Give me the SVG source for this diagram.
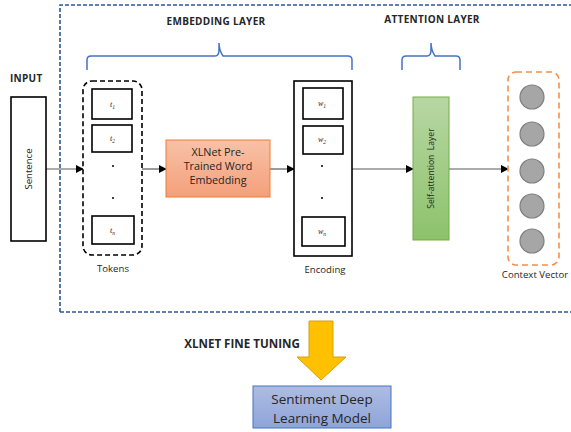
<svg xmlns="http://www.w3.org/2000/svg" width="571" height="432" viewBox="0 0 571 432">
  <style>
    text { font-family: "Open Sans", "Liberation Sans", sans-serif; fill: #262626; }
    .hdr { font-size: 10px; font-weight: bold; letter-spacing: 0.3px; }
    .lbl { font-size: 9.6px; }
    .sub { font-size: 8px; font-style: italic; font-family: "Liberation Serif", serif; }
    .box { fill: #ffffff; stroke: #000000; stroke-width: 1.6; }
    .brace { fill: none; stroke: #4472C4; stroke-width: 1.5; }
    .wire { stroke: #595959; stroke-width: 1.2; fill: none; marker-end: url(#arr); }
    .dot { fill: #000000; }
    .ball { fill: #A6A6A6; stroke: #7F7F7F; stroke-width: 1.2; }
  </style>
  <defs>
    <marker id="arr" viewBox="0 0 10 10" refX="9" refY="5" markerWidth="8" markerHeight="8" markerUnits="userSpaceOnUse" orient="auto">
      <path d="M0,0 L10,5 L0,10 z" fill="#000000"/>
    </marker>
    <linearGradient id="gOrange" x1="0" y1="0" x2="0" y2="1">
      <stop offset="0" stop-color="#F8C1A8"/>
      <stop offset="1" stop-color="#F4A07A"/>
    </linearGradient>
    <linearGradient id="gGreen" x1="0" y1="0" x2="0" y2="1">
      <stop offset="0" stop-color="#B7D7A3"/>
      <stop offset="1" stop-color="#8DC26B"/>
    </linearGradient>
    <linearGradient id="gBlue" x1="0" y1="0" x2="0" y2="1">
      <stop offset="0" stop-color="#AEBCE2"/>
      <stop offset="1" stop-color="#8EA4D9"/>
    </linearGradient>
  </defs>

  <!-- fine-tuning region outline -->
  <path id="region" d="M60,312 V5 H575 M60,312 H575" fill="none" stroke="#2F5597" stroke-width="1.6" stroke-dasharray="4 2"/>

  <!-- headings -->
  <text class="hdr" x="10" y="82">INPUT</text>
  <text class="hdr" x="216" y="25" text-anchor="middle">EMBEDDING  LAYER</text>
  <text class="hdr" x="432" y="23" text-anchor="middle">ATTENTION  LAYER</text>
  <text class="hdr" x="242" y="348" text-anchor="middle" style="font-size:11.6px;letter-spacing:0">XLNET FINE TUNING</text>

  <!-- layer braces -->
  <path class="brace" d="M87,70 V60 Q87,56 91,56 H215 Q219,56 219,50 V43 Q219,50 223,56 H348 Q352,56 352,60 V70"/>
  <path class="brace" d="M402,70 V60 Q402,56 406,56 H427 Q431,56 431,50 V43 Q431,50 435,56 H456 Q460,56 460,60 V70"/>

  <!-- connectors -->
  <g id="connectors">
    <line class="wire" x1="46" y1="169" x2="83" y2="169"/>
    <line class="wire" x1="142" y1="169" x2="166" y2="169"/>
    <line class="wire" x1="270" y1="169" x2="294" y2="169"/>
    <line class="wire" x1="352" y1="169" x2="413" y2="169"/>
    <line class="wire" x1="449" y1="169" x2="508" y2="169"/>
  </g>

  <g id="sentence">
    <rect class="box" x="11" y="97" width="35" height="144"/>
    <text class="lbl" transform="translate(31.5,169) rotate(-90)" text-anchor="middle">Sentence</text>
  </g>

  <g id="tokens">
    <rect x="83" y="81" width="59" height="174" rx="9" fill="#ffffff" stroke="#000000" stroke-width="1.6" stroke-dasharray="5 3"/>
    <rect class="box" x="92" y="89" width="40" height="30"/>
    <text class="sub" x="110" y="107">t<tspan font-size="5.5" dy="2">1</tspan></text>
    <rect class="box" x="92" y="125" width="40" height="27"/>
    <text class="sub" x="110" y="141">t<tspan font-size="5.5" dy="2">2</tspan></text>
    <circle class="dot" cx="113" cy="166" r="1"/>
    <circle class="dot" cx="113" cy="198" r="1"/>
    <rect class="box" x="92" y="216" width="42" height="28"/>
    <text class="sub" x="110" y="233">t<tspan font-size="5.5" dy="2">n</tspan></text>
    <text class="lbl" x="113" y="272" text-anchor="middle">Tokens</text>
  </g>

  <g id="xlnet">
    <rect x="166" y="140" width="104" height="57" fill="url(#gOrange)" stroke="#ED7D31" stroke-width="1"/>
    <text class="lbl" style="font-size:10.8px" x="218" y="156" text-anchor="middle">XLNet Pre-</text>
    <text class="lbl" style="font-size:10.8px" x="218" y="170" text-anchor="middle">Trained Word</text>
    <text class="lbl" style="font-size:10.8px" x="218" y="184" text-anchor="middle">Embedding</text>
  </g>

  <g id="encoding">
    <rect class="box" x="294" y="81" width="58" height="175"/>
    <rect class="box" x="303" y="88" width="40" height="31"/>
    <text class="sub" x="318" y="106">w<tspan font-size="5.5" dy="2">1</tspan></text>
    <rect class="box" x="303" y="126" width="40" height="28"/>
    <text class="sub" x="318" y="142">w<tspan font-size="5.5" dy="2">2</tspan></text>
    <circle class="dot" cx="322" cy="166" r="1"/>
    <circle class="dot" cx="322" cy="198" r="1"/>
    <rect class="box" x="302" y="217" width="43" height="29"/>
    <text class="sub" x="318" y="234">w<tspan font-size="5.5" dy="2">n</tspan></text>
    <text class="lbl" x="325" y="273" text-anchor="middle">Encoding</text>
  </g>

  <g id="self-attention">
    <rect x="413" y="97" width="36" height="143" fill="url(#gGreen)" stroke="#70AD47" stroke-width="1"/>
    <text class="lbl" style="font-size:8.6px" transform="translate(434,168.5) rotate(-90)" text-anchor="middle" xml:space="preserve">Self-attention  Layer</text>
  </g>

  <g id="context-vector">
    <rect x="508" y="72" width="51" height="193" rx="8" fill="#ffffff" stroke="#F4904A" stroke-width="1.6" stroke-dasharray="6 4"/>
    <circle class="ball" cx="532" cy="97" r="12"/>
    <circle class="ball" cx="532" cy="134" r="12"/>
    <circle class="ball" cx="532" cy="171" r="12"/>
    <circle class="ball" cx="532" cy="206" r="12"/>
    <circle class="ball" cx="532" cy="241" r="12"/>
    <text class="lbl" x="535" y="278" text-anchor="middle">Context Vector</text>
  </g>

  <g id="fine-tuning-arrow">
    <path d="M309,321 H333 V357 H346 L321,380 L297,357 H309 Z" fill="#FFC000" stroke="#D4A017" stroke-width="1"/>
  </g>

  <g id="sentiment-model">
    <rect x="253" y="386" width="138" height="42" fill="url(#gBlue)" stroke="#4472C4" stroke-width="1"/>
    <text x="322" y="404" text-anchor="middle" font-size="13.5">Sentiment Deep</text>
    <text x="322" y="423" text-anchor="middle" font-size="13.5">Learning Model</text>
  </g>
</svg>
